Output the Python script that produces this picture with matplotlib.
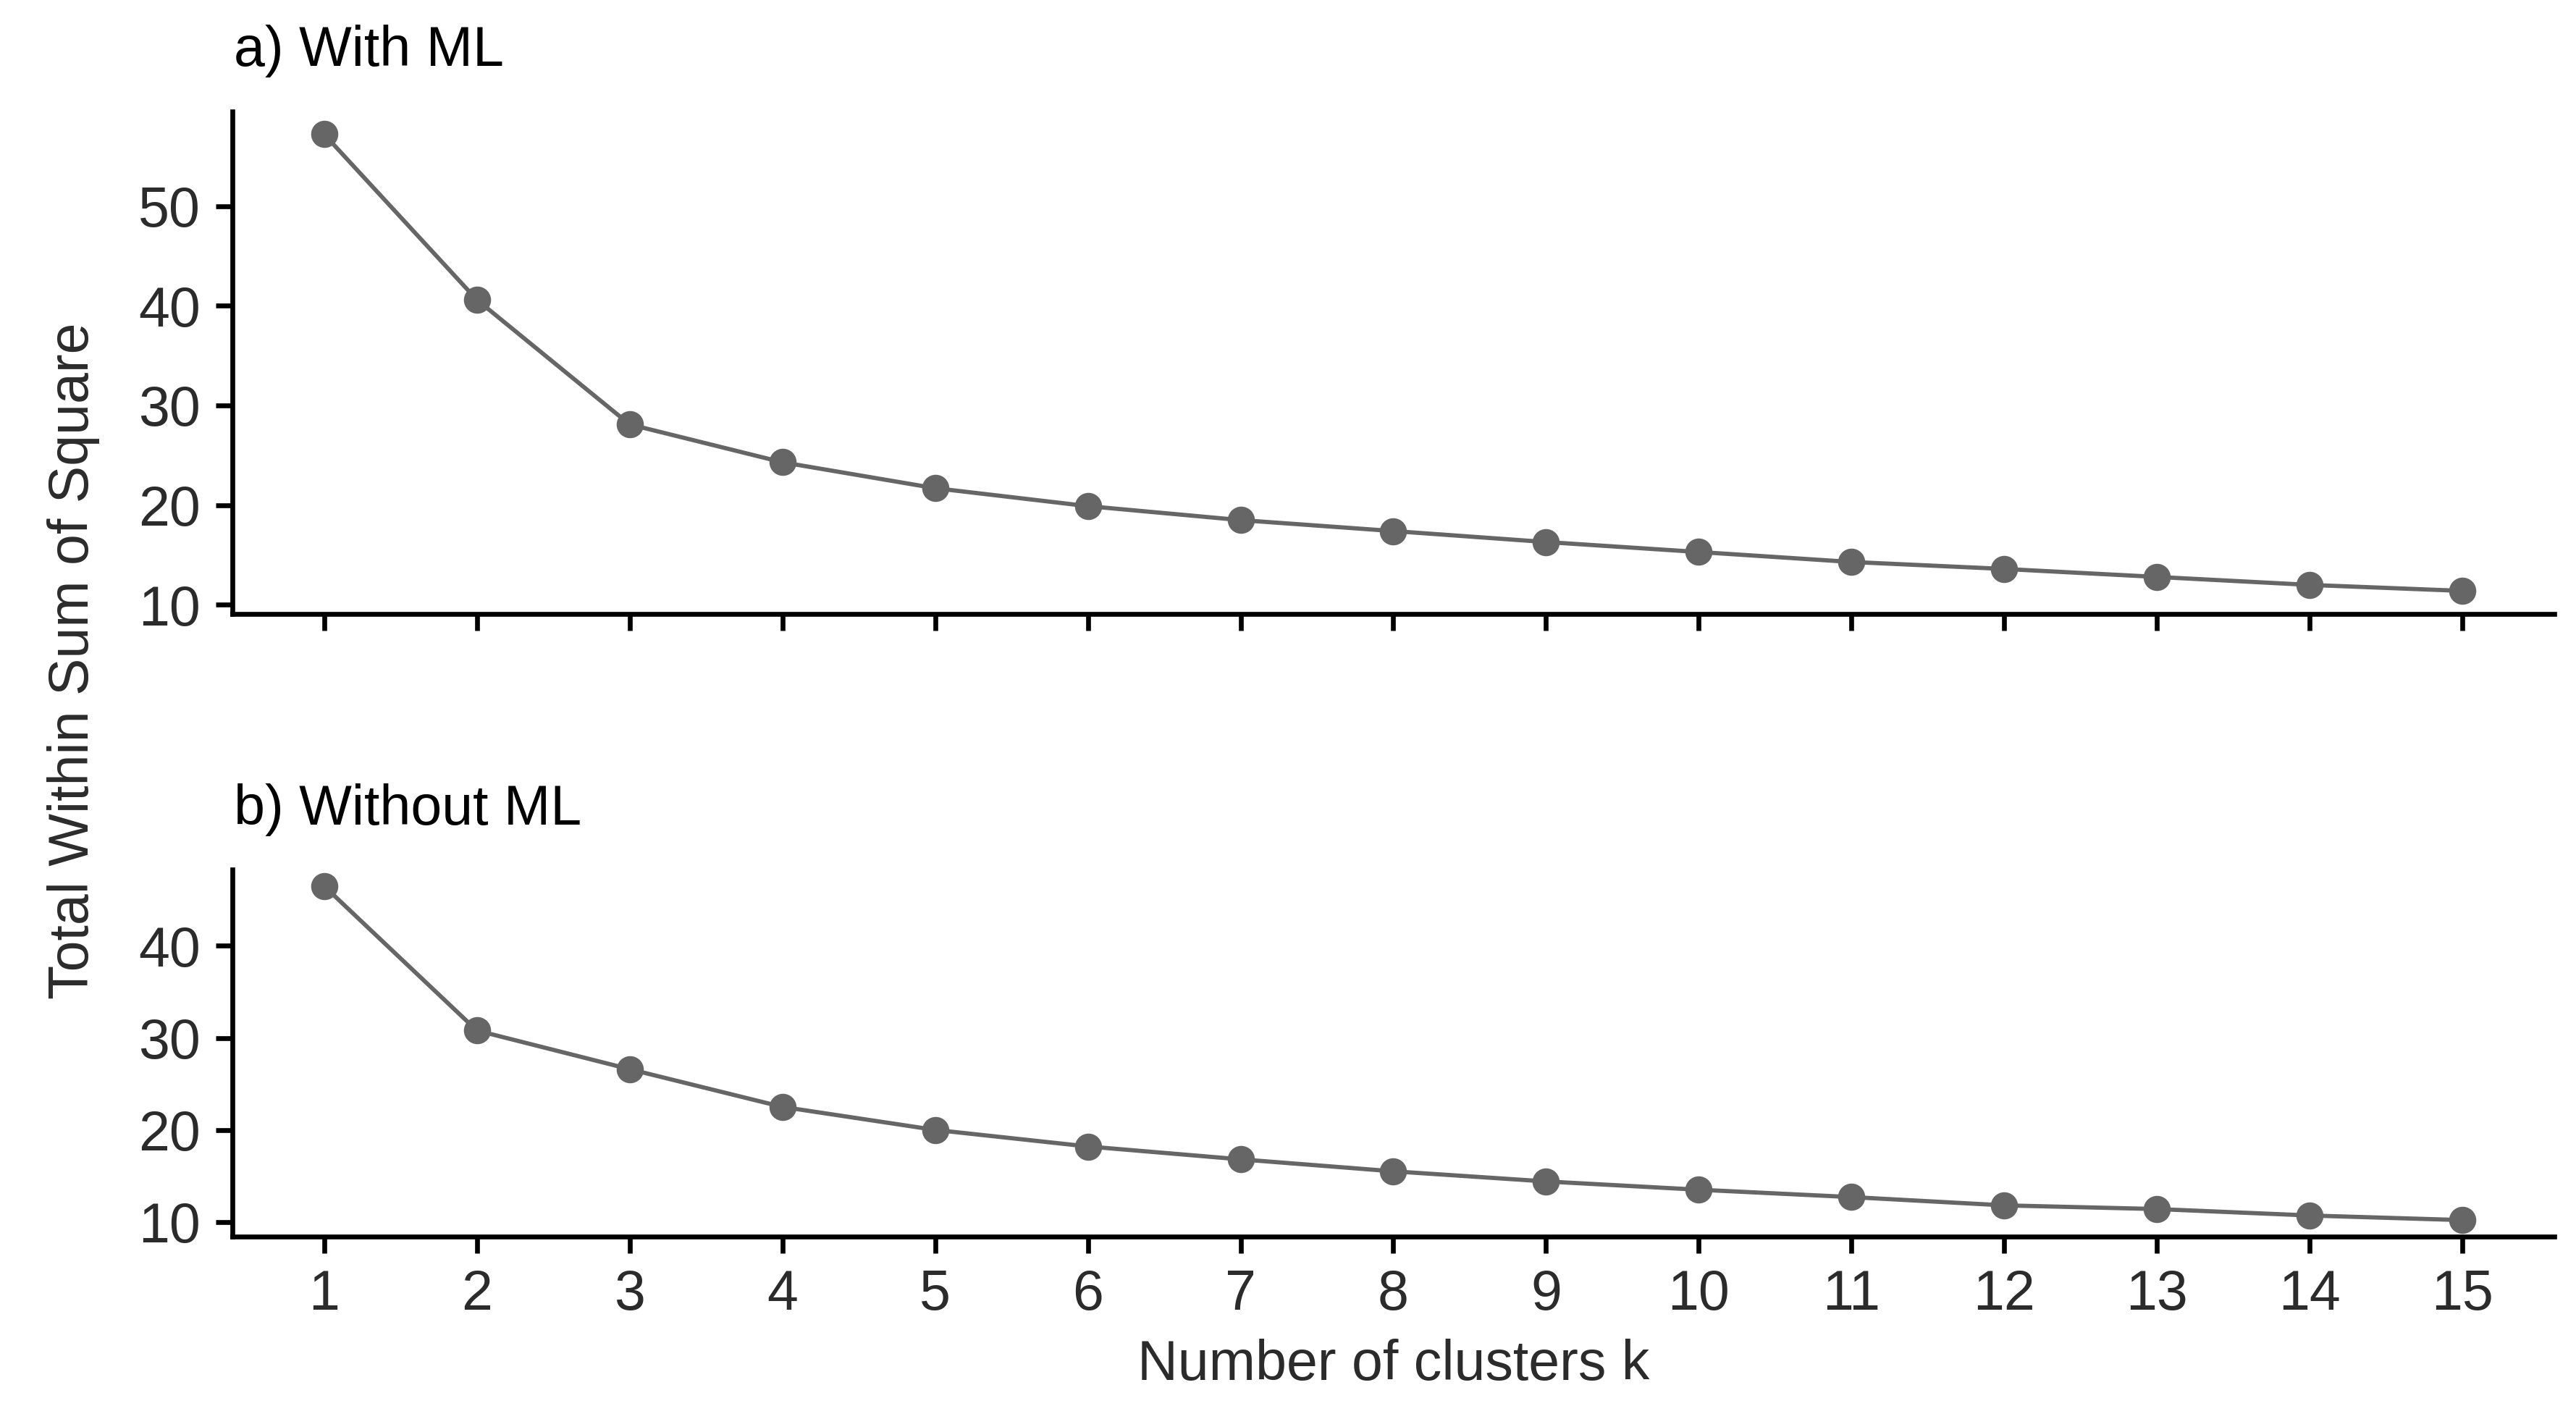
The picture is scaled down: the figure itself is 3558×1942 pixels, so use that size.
import matplotlib.pyplot as plt
import numpy as np

plt.rcParams['font.family'] = ['Liberation Sans', 'DejaVu Sans']

k = np.arange(1, 16)
wss_with_ml = [57.2, 40.6, 28.1, 24.3, 21.7, 19.9, 18.5, 17.4, 16.3,
               15.3, 14.3, 13.6, 12.8, 12.0, 11.4]
wss_without_ml = [46.5, 30.8, 26.6, 22.5, 20.0, 18.2, 16.8, 15.5, 14.4,
                  13.5, 12.7, 11.8, 11.4, 10.7, 10.2]
yticks_a = [10, 20, 30, 40, 50]
yticks_b = [10, 20, 30, 40]

W, H = 3558, 1942
fig = plt.figure(figsize=(W / 300, H / 300), dpi=300)

left, width = 321 / W, (3528 - 321) / W
ax1 = fig.add_axes([left, (H - 847.7) / H, width, (847.7 - 153.8) / H])
ax2 = fig.add_axes([left, (H - 1708.3) / H, width, (1708.3 - 1200.7) / H])

line_col = '#666666'
text_col = '#2b2b2b'

for ax, vals, yt in [(ax1, wss_with_ml, yticks_a), (ax2, wss_without_ml, yticks_b)]:
    ax.plot(k, vals, color=line_col, lw=1.4, marker='o', ms=8,
            mec=line_col, mfc=line_col, clip_on=False, zorder=3)
    ax.set_xlim(0.4, 15.6)
    ax.margins(y=0.05)
    ax.set_xticks(k)
    ax.set_yticks(yt)
    for s in ['top', 'right']:
        ax.spines[s].set_visible(False)
    for s in ['left', 'bottom']:
        ax.spines[s].set_linewidth(1.6)
        ax.spines[s].set_color('black')
    ax.tick_params(axis='both', length=5.5, width=1.6, color='black',
                   labelsize=18.5, labelcolor=text_col, pad=5)

ax1.tick_params(axis='x', labelbottom=False)

fig.text(323 / W, (H - 90.7) / H, 'a) With ML', fontsize=18.5, color='black',
         ha='left', va='baseline')
fig.text(323 / W, (H - 1139.3) / H, 'b) Without ML', fontsize=18.5, color='black',
         ha='left', va='baseline')

fig.text((321 + 3528) / 2 / W, (H - 1906) / H, 'Number of clusters k',
         fontsize=18.5, color=text_col, ha='center', va='baseline')
fig.text(122.5 / W, (H - 913) / H, 'Total Within Sum of Square', fontsize=18.5,
         color=text_col, rotation=90, rotation_mode='anchor',
         ha='center', va='baseline')

fig.savefig('out.png', dpi=300, facecolor='white')
